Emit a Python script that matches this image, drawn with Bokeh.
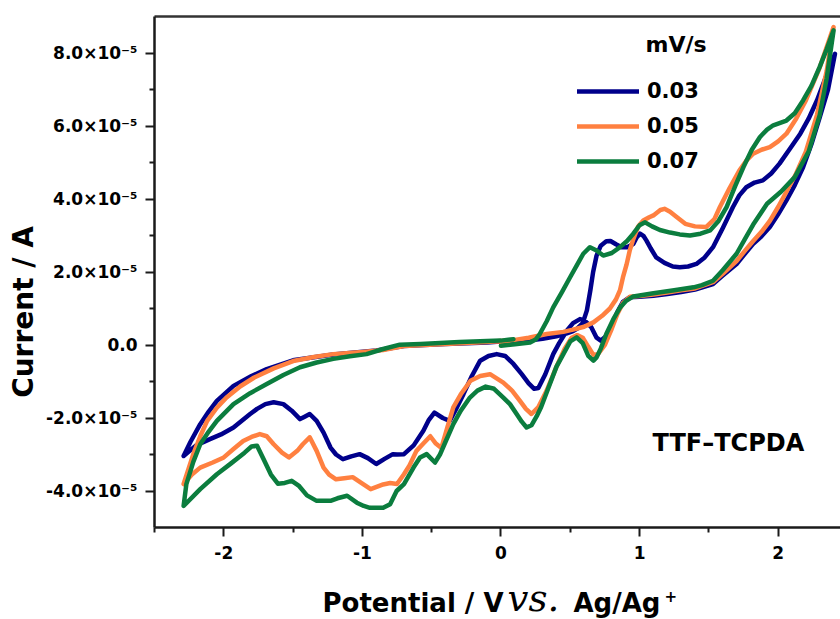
from bokeh.plotting import figure
from bokeh.layouts import column, row
from bokeh.models import Range1d, FixedTicker, Label, Legend, LegendItem, LinearAxis
from bokeh.embed import file_html
from bokeh.resources import INLINE

# ---- data: (potential / V, current / 1e-5 A), scan path anodic -> cathodic -> return
scan_rates = ["0.03", "0.05", "0.07"]
colors = ["#00008B", "#FF8040", "#0B7D3E"]

cv_003 = [
    (0.00, 0.05), (0.10, 0.08), (0.20, 0.12), (0.30, 0.17), (0.40, 0.24), (0.47, 0.31), (0.52, 0.38),
    (0.55, 0.45), (0.59, 0.60), (0.62, 0.95), (0.645, 1.50), (0.665, 2.00), (0.69, 2.45), (0.72, 2.72),
    (0.76, 2.84), (0.79, 2.85), (0.83, 2.76), (0.87, 2.68), (0.91, 2.68), (0.955, 2.77), (0.98, 2.95),
    (1.003, 3.05), (1.03, 2.98), (1.05, 2.86), (1.08, 2.65), (1.12, 2.40), (1.18, 2.25), (1.24, 2.15),
    (1.29, 2.13), (1.35, 2.15), (1.41, 2.22), (1.47, 2.40), (1.53, 2.68), (1.60, 3.20), (1.674, 3.78),
    (1.72, 4.10), (1.77, 4.32), (1.83, 4.45), (1.89, 4.51), (1.95, 4.70), (2.01, 4.97), (2.08, 5.35),
    (2.16, 5.79), (2.22, 6.20), (2.28, 6.70), (2.34, 7.30), (2.41, 7.98),
    (2.36, 7.00), (2.30, 6.24), (2.24, 5.50), (2.18, 4.87), (2.12, 4.38), (2.06, 3.96), (2.00, 3.58),
    (1.94, 3.23), (1.88, 2.98), (1.82, 2.77), (1.76, 2.50), (1.70, 2.22), (1.60, 1.90), (1.53, 1.67),
    (1.40, 1.52), (1.30, 1.45), (1.20, 1.40), (1.10, 1.35), (1.00, 1.32), (0.93, 1.31), (0.88, 1.18),
    (0.84, 0.90), (0.80, 0.55), (0.76, 0.25), (0.72, 0.12), (0.69, 0.20), (0.65, 0.50), (0.60, 0.68),
    (0.57, 0.71), (0.52, 0.60), (0.475, 0.39), (0.42, 0.05), (0.377, -0.25), (0.32, -0.80), (0.27, -1.18),
    (0.24, -1.20), (0.20, -1.05), (0.15, -0.80), (0.09, -0.52), (0.03, -0.30), (-0.031, -0.25),
    (-0.09, -0.30), (-0.15, -0.43), (-0.21, -0.85), (-0.27, -1.34), (-0.33, -1.80), (-0.37, -2.08),
    (-0.42, -2.00), (-0.48, -1.85), (-0.52, -2.05), (-0.56, -2.35), (-0.63, -2.75), (-0.70, -2.99),
    (-0.75, -3.00), (-0.78, -2.99), (-0.84, -3.12), (-0.90, -3.26), (-0.96, -3.10), (-1.02, -2.99),
    (-1.08, -3.05), (-1.14, -3.13), (-1.19, -3.00), (-1.23, -2.81), (-1.28, -2.40), (-1.33, -2.08),
    (-1.38, -1.89), (-1.42, -1.97), (-1.45, -2.03), (-1.51, -1.80), (-1.57, -1.62), (-1.64, -1.57),
    (-1.70, -1.62), (-1.76, -1.75), (-1.81, -1.89), (-1.93, -2.26), (-2.02, -2.45), (-2.10, -2.58),
    (-2.20, -2.75), (-2.29, -3.04),
    (-2.24, -2.65), (-2.17, -2.17), (-2.11, -1.83), (-2.05, -1.53), (-1.93, -1.12), (-1.80, -0.85),
    (-1.69, -0.66), (-1.49, -0.41), (-1.21, -0.26), (-0.90, -0.15), (-0.70, -0.03), (-0.40, 0.03),
    (-0.10, 0.07), (0.08, 0.12),
]

cv_005 = [
    (0.00, 0.08), (0.10, 0.14), (0.20, 0.20), (0.33, 0.30), (0.45, 0.36), (0.52, 0.42), (0.60, 0.50),
    (0.667, 0.62), (0.73, 0.80), (0.786, 1.00), (0.83, 1.25), (0.859, 1.50), (0.88, 1.85), (0.906, 2.20),
    (0.93, 2.60), (0.955, 2.90), (0.99, 3.25), (1.027, 3.41), (1.07, 3.50), (1.10, 3.55), (1.15, 3.70),
    (1.18, 3.73), (1.22, 3.65), (1.27, 3.50), (1.33, 3.32), (1.40, 3.25), (1.48, 3.23), (1.54, 3.45),
    (1.58, 3.78), (1.65, 4.30), (1.72, 4.78), (1.77, 5.05), (1.82, 5.24), (1.88, 5.35), (1.94, 5.42),
    (2.00, 5.58), (2.06, 5.79), (2.13, 6.20), (2.20, 6.70), (2.30, 7.60), (2.40, 8.71),
    (2.35, 7.50), (2.28, 6.30), (2.20, 5.30), (2.13, 4.70), (2.06, 4.20), (2.00, 3.78), (1.94, 3.40),
    (1.88, 3.10), (1.82, 2.85), (1.76, 2.58), (1.70, 2.30), (1.60, 1.95), (1.53, 1.72), (1.40, 1.55),
    (1.30, 1.50), (1.20, 1.44), (1.10, 1.38), (1.00, 1.34), (0.93, 1.32), (0.88, 1.15), (0.84, 0.85),
    (0.80, 0.45), (0.75, 0.00), (0.70, -0.25), (0.667, -0.27), (0.63, -0.05), (0.59, 0.20), (0.55, 0.27),
    (0.51, 0.20), (0.46, -0.10), (0.40, -0.60), (0.33, -1.25), (0.27, -1.70), (0.22, -1.89), (0.18, -1.75),
    (0.137, -1.53), (0.08, -1.25), (0.017, -1.03), (-0.079, -0.80), (-0.15, -0.85), (-0.22, -0.98),
    (-0.29, -1.35), (-0.344, -1.71), (-0.39, -2.30), (-0.43, -2.82), (-0.47, -2.70), (-0.51, -2.50),
    (-0.56, -2.70), (-0.61, -2.90), (-0.66, -3.30), (-0.70, -3.54), (-0.75, -3.81), (-0.80, -3.78),
    (-0.85, -3.82), (-0.94, -3.95), (-1.00, -3.80), (-1.07, -3.62), (-1.13, -3.65), (-1.19, -3.68),
    (-1.24, -3.55), (-1.28, -3.36), (-1.33, -2.90), (-1.38, -2.53), (-1.43, -2.72), (-1.47, -2.90),
    (-1.53, -3.08), (-1.58, -2.95), (-1.64, -2.72), (-1.69, -2.50), (-1.74, -2.44), (-1.80, -2.52),
    (-1.86, -2.63), (-1.93, -2.85), (-2.00, -3.08), (-2.08, -3.22), (-2.17, -3.36), (-2.23, -3.55),
    (-2.29, -3.81),
    (-2.22, -2.99), (-2.17, -2.50), (-2.12, -2.08), (-2.05, -1.72), (-1.98, -1.44), (-1.88, -1.13),
    (-1.78, -0.89), (-1.64, -0.64), (-1.49, -0.43), (-1.35, -0.33), (-1.21, -0.25), (-1.00, -0.19),
    (-0.85, -0.14), (-0.70, -0.03), (-0.40, 0.03), (-0.10, 0.08), (0.09, 0.14),
]

cv_007 = [
    (0.00, -0.02), (0.10, 0.02), (0.21, 0.07), (0.25, 0.15), (0.28, 0.30), (0.33, 0.65), (0.377, 1.03),
    (0.44, 1.45), (0.498, 1.85), (0.55, 2.20), (0.594, 2.50), (0.642, 2.68), (0.69, 2.59), (0.738, 2.45),
    (0.80, 2.52), (0.859, 2.68), (0.91, 2.85), (0.955, 3.05), (1.00, 3.28), (1.04, 3.36), (1.09, 3.25),
    (1.147, 3.15), (1.22, 3.08), (1.29, 3.03), (1.364, 3.00), (1.44, 3.05), (1.51, 3.14), (1.57, 3.40),
    (1.628, 3.78), (1.69, 4.35), (1.749, 4.87), (1.81, 5.35), (1.869, 5.70), (1.92, 5.90), (1.965, 6.02),
    (2.06, 6.15), (2.12, 6.35), (2.18, 6.70), (2.24, 7.10), (2.30, 7.62), (2.35, 8.10), (2.40, 8.62),
    (2.35, 7.30), (2.30, 6.30), (2.22, 5.30), (2.12, 4.60), (2.02, 4.20), (1.92, 3.87), (1.82, 3.30),
    (1.76, 2.90), (1.70, 2.50), (1.60, 2.05), (1.53, 1.76), (1.45, 1.64), (1.39, 1.58), (1.25, 1.50),
    (1.10, 1.42), (0.955, 1.33), (0.90, 1.20), (0.86, 1.03), (0.81, 0.70), (0.76, 0.30), (0.72, -0.10),
    (0.69, -0.34), (0.667, -0.43), (0.63, -0.30), (0.59, 0.05), (0.546, 0.21), (0.50, 0.10), (0.45, -0.25),
    (0.40, -0.60), (0.34, -1.20), (0.29, -1.70), (0.258, -1.95), (0.22, -2.20), (0.185, -2.26),
    (0.15, -2.10), (0.113, -1.89), (0.065, -1.62), (0.017, -1.44), (-0.05, -1.20), (-0.11, -1.14),
    (-0.17, -1.25), (-0.224, -1.44), (-0.29, -1.80), (-0.344, -2.17), (-0.40, -2.65), (-0.44, -3.00),
    (-0.476, -3.22), (-0.536, -2.99), (-0.584, -3.08), (-0.63, -3.35), (-0.70, -3.81), (-0.753, -4.00),
    (-0.80, -4.36), (-0.85, -4.46), (-0.946, -4.46), (-0.99, -4.41), (-1.04, -4.32), (-1.11, -4.13),
    (-1.18, -4.20), (-1.23, -4.27), (-1.33, -4.27), (-1.40, -4.12), (-1.46, -3.85), (-1.51, -3.72),
    (-1.56, -3.78), (-1.61, -3.80), (-1.66, -3.55), (-1.71, -3.15), (-1.76, -2.76), (-1.80, -2.78),
    (-1.85, -2.95), (-1.95, -3.25), (-2.05, -3.54), (-2.17, -3.95), (-2.29, -4.41),
    (-2.27, -3.81), (-2.22, -3.20), (-2.17, -2.72), (-2.11, -2.38), (-2.05, -2.08), (-1.93, -1.62),
    (-1.81, -1.32), (-1.69, -1.07), (-1.57, -0.82), (-1.45, -0.61), (-1.33, -0.48), (-1.21, -0.38),
    (-1.09, -0.31), (-0.97, -0.25), (-0.85, -0.11), (-0.73, 0.01), (-0.58, 0.03), (-0.30, 0.08),
    (0.00, 0.12), (0.09, 0.16),
]

x_ticks = [-2, -1, 0, 1, 2]
x_minor_ticks = [-2.5, -1.5, -0.5, 0.5, 1.5]
y_ticks = [-4, -2, 0, 2, 4, 6, 8]
y_minor_ticks = [-3, -1, 1, 3, 5, 7]
y_tick_labels = ["-4.0×10⁻⁵", "-2.0×10⁻⁵", "0.0", "2.0×10⁻⁵", "4.0×10⁻⁵", "6.0×10⁻⁵", "8.0×10⁻⁵"]
x_tick_labels = ["-2", "-1", "0", "1", "2"]

FONT = "DejaVu Sans"
YT_W = 40          # width of the strip holding the y-axis title
XT_H = 50          # height of the strip holding the x-axis title
MAIN_W, MAIN_H = 840 - YT_W, 619 - XT_H

p = figure(width=MAIN_W, height=MAIN_H, x_range=Range1d(-2.5, 2.45), y_range=Range1d(-5, 9),
           output_backend="svg", toolbar_location=None,
           min_border_left=154 - YT_W, min_border_right=0, min_border_top=16,
           min_border_bottom=MAIN_H - 16 - 511)
p.grid.visible = False
p.outline_line_color = None

xa = p.xaxis[0]
ya = p.yaxis[0]
xa.ticker = FixedTicker(ticks=x_ticks, minor_ticks=x_minor_ticks)
ya.ticker = FixedTicker(ticks=y_ticks, minor_ticks=y_minor_ticks)
xa.major_label_overrides = {t: s for t, s in zip(x_ticks, x_tick_labels)}
ya.major_label_overrides = {t: s for t, s in zip(y_ticks, y_tick_labels)}
for ax in (xa, ya):
    ax.axis_line_width = 2.5
    ax.axis_line_color = "#1a1a1a"
    ax.major_tick_line_width = 2
    ax.major_tick_line_color = "#1a1a1a"
    ax.major_tick_out = 9
    ax.major_tick_in = 0
    ax.minor_tick_line_width = 2
    ax.minor_tick_line_color = "#1a1a1a"
    ax.minor_tick_out = 5
    ax.minor_tick_in = 0
    ax.major_label_text_font = FONT
    ax.major_label_text_font_style = "bold"
    ax.major_label_text_color = "black"
    ax.major_label_text_font_size = "17px"
xa.major_label_standoff = 9
ya.major_label_standoff = 8

top = LinearAxis(ticker=FixedTicker(ticks=[]), axis_line_width=2.5, axis_line_color="#333333",
                 major_tick_line_color=None, minor_tick_line_color=None,
                 major_label_text_font_size="0px")
p.add_layout(top, "above")

renderers = []
for pts, c in zip([cv_003, cv_005, cv_007], colors):
    xs = [e for e, _ in pts]
    ys = [i for _, i in pts]
    r = p.line(xs, ys, line_color=c, line_width=4.5, line_join="round", line_cap="round")
    renderers.append(r)

legend = Legend(items=[LegendItem(label=lab, renderers=[r]) for lab, r in zip(scan_rates, renderers)],
                location=(423, 351), padding=0, margin=0, spacing=5,
                glyph_width=62, glyph_height=30, label_height=30, label_standoff=8,
                border_line_color=None, background_fill_alpha=0,
                label_text_font=FONT, label_text_font_style="bold", label_text_font_size="21px",
                label_text_color="black")
p.add_layout(legend)


def txt(fig, x, y, text, size, font=FONT, style="bold", units="screen", **kw):
    fig.add_layout(Label(x=x, y=y, x_units=units, y_units=units, text=text,
                         text_font=font, text_font_style=style, text_font_size=size,
                         text_color="black", **kw))


txt(p, 491, 471, "mV/s", "22px")
txt(p, 498, 71, "TTF–TCPDA", "24px")


def strip(w, h):
    f = figure(width=w, height=h, x_range=Range1d(0, w), y_range=Range1d(0, h),
               output_backend="svg", toolbar_location=None, min_border=0)
    f.axis.visible = False
    f.grid.visible = False
    f.outline_line_color = None
    return f


# y-axis title strip (left)
yt = strip(YT_W, MAIN_H)
txt(yt, 23, MAIN_H - 329, "Current / A", "28px", units="data", angle=90, angle_units="deg",
    text_align="center", text_baseline="middle")

# x-axis title strip (bottom); labels anchored by the bottom of their text boxes
xt = strip(840, XT_H)
base = dict(units="data", text_baseline="bottom")
txt(xt, 322, 2, "Potential / V", "26px", **base)
txt(xt, 507, 0, "vs.", "37px", font="DejaVu Serif", style="italic", **base)
txt(xt, 573, 2, "Ag/Ag", "26px", **base)
txt(xt, 664, 18, "+", "15px", **base)

layout = column(row(yt, p, spacing=0), xt, spacing=0)

open("out.html", "w").write(file_html(layout, INLINE))
